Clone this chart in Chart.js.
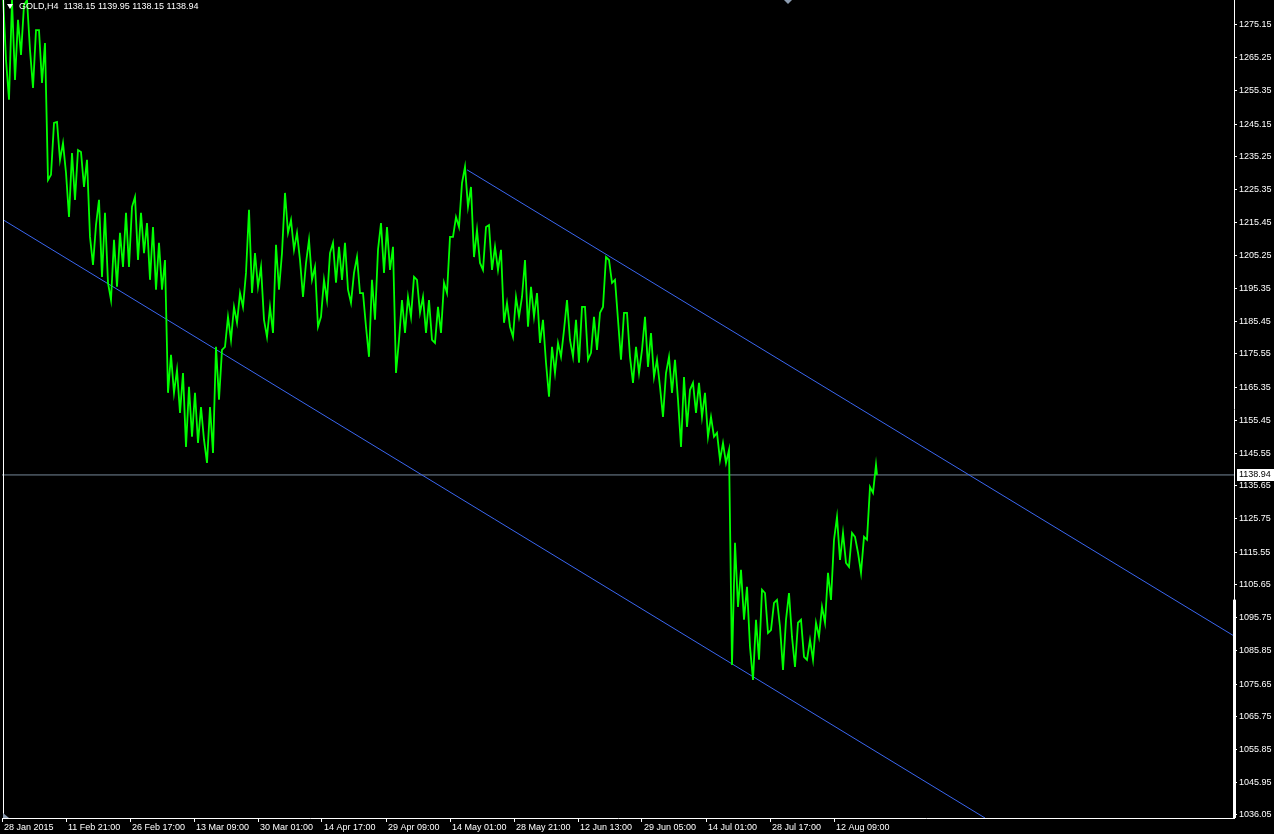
<!DOCTYPE html>
<html>
<head>
<meta charset="utf-8">
<script src="https://cdn.jsdelivr.net/npm/chart.js@4.4.1/dist/chart.umd.min.js"></script>
<style>
  html, body { margin: 0; padding: 0; background: #000; }
  canvas { display: block; background: #000; }
</style>
</head>
<body>
<canvas id="myChart" width="1274" height="834"></canvas>
<script>
// GOLD H4, one entry per trading day (6 H4 bars)
const dayHigh = [1284.2,1282.7,1276.7,1281.2,1282.7,1273.6,1273.6,1269.7,1245.5,1245.8,
    1239.4,1236.4,1237.3,1236.7,1234.3,1214.6,1222.2,1218.3,1210.1,1212.2,
    1218.3,1220.1,1223.1,1218.3,1215.2,1214.0,1209.2,1204.0,1175.3,1170.7,
    1169.8,1165.6,1163.8,1159.5,1159.5,1177.7,1176.8,1186.8,1189.8,1194.0,
    1200.1,1219.2,1206.1,1201.9,1189.8,1208.6,1206.1,1224.3,1216.1,1212.2,
    1203.1,1210.1,1201.9,1198.0,1206.1,1209.2,1208.0,1209.2,1200.1,1204.9,
    1194.0,1198.0,1207.1,1215.2,1214.0,1208.0,1191.9,1192.8,1198.9,1198.0,
    1192.8,1191.9,1189.8,1197.1,1211.0,1217.0,1227.3,1232.2,1226.1,1213.1,
    1214.0,1214.6,1208.0,1207.1,1191.0,1192.8,1192.8,1204.0,1195.9,1194.0,
    1185.9,1177.7,1178.9,1182.8,1191.9,1185.9,1189.8,1189.8,1186.8,1188.0,
    1204.9,1204.0,1198.0,1188.0,1188.0,1177.7,1176.8,1186.8,1181.9,1173.8,
    1169.8,1174.7,1173.8,1168.6,1164.7,1166.8,1166.8,1163.8,1156.5,1151.7,
    1148.6,1146.5,1118.4,1110.2,1105.1,1095.1,1104.2,1103.2,1100.2,1101.1,
    1095.1,1103.2,1094.2,1095.1,1089.0,1094.2,1099.0,1109.3,1119.3,1126.2,
    1121.4,1121.4,1120.2,1120.2,1135.3,1142.0]
const dayLow = [1264.6,1252.5,1258.5,1266.1,1267.6,1256.1,1257.6,1228.2,1229.8,1234.3,
    1230.4,1217.0,1222.2,1226.1,1211.0,1202.5,1198.9,1197.1,1191.9,1195.9,
    1201.9,1201.9,1204.0,1206.1,1198.0,1195.0,1195.0,1163.8,1163.8,1157.7,
    1147.4,1150.5,1148.6,1149.6,1142.6,1145.6,1161.7,1177.7,1179.8,1185.0,
    1189.8,1194.0,1195.9,1185.9,1180.7,1181.9,1195.0,1212.2,1207.1,1204.0,
    1192.8,1198.0,1183.8,1186.8,1191.9,1197.1,1198.0,1195.0,1191.0,1194.0,
    1183.8,1174.7,1185.9,1200.1,1201.0,1169.8,1179.8,1181.9,1186.8,1188.0,
    1181.9,1179.8,1178.9,1181.9,1194.0,1211.0,1214.0,1220.1,1204.9,1203.1,
    1201.0,1201.0,1201.0,1185.0,1183.8,1180.7,1186.8,1183.8,1186.8,1178.9,
    1172.9,1162.6,1169.8,1174.7,1179.8,1174.7,1172.9,1173.8,1175.9,1176.8,
    1189.8,1197.1,1185.9,1173.8,1174.7,1166.8,1169.8,1171.6,1168.6,1165.6,
    1156.5,1163.8,1161.7,1147.4,1153.5,1157.7,1156.5,1150.5,1150.5,1143.5,
    1142.6,1081.4,1099.0,1095.1,1086.9,1076.9,1083.0,1091.1,1092.0,1093.0,
    1079.9,1089.9,1080.8,1083.9,1083.0,1083.0,1089.9,1094.2,1101.1,1113.2,
    1112.3,1111.1,1115.4,1109.3,1119.3,1133.5]

const lastClose = 1138.94
const titleText = 'GOLD,H4  1138.15 1139.95 1138.15 1138.94'

// channel lines: [bar index, price]
const lowerChannel = [[2, 1216.0], [983, 1035.1]]
const upperChannel = [[465, 1231.3], [1232, 1090.2]]

const xTickBars = [0, 64, 128, 192, 256, 320, 384, 448, 512, 576, 640, 704, 768, 832]
const xTickLabels = ['28 Jan 2015', '11 Feb 21:00', '26 Feb 17:00', '13 Mar 09:00', '30 Mar 01:00',
    '14 Apr 17:00', '29 Apr 09:00', '14 May 01:00', '28 May 21:00', '12 Jun 13:00',
    '29 Jun 05:00', '14 Jul 01:00', '28 Jul 17:00', '12 Aug 09:00']
const yTicks = [1275.15, 1265.25, 1255.35, 1245.15, 1235.25, 1225.35, 1215.45, 1205.25, 1195.35,
    1185.45, 1175.55, 1165.35, 1155.45, 1145.55, 1135.65, 1125.75, 1115.55, 1105.65, 1095.75,
    1085.85, 1075.65, 1065.75, 1055.85, 1045.95, 1036.05]

const barsPerDay = 6
const font = { family: '"Liberation Sans", Arial, sans-serif', size: 9 }
const fontStr = '9px "Liberation Sans", Arial, sans-serif'

// zigzag through each day's range, direction following the next day
let pricePoints = []
dayHigh.forEach((h, d) => {
    const l = dayLow[d]
    const mid = (h + l) / 2
    const next = d + 1 < dayHigh.length ? (dayHigh[d + 1] + dayLow[d + 1]) / 2 : lastClose
    const down = next < mid
    pricePoints.push({ x: d * barsPerDay + 1, y: down ? h : l })
    pricePoints.push({ x: d * barsPerDay + 4, y: down ? l : h })
})
pricePoints.push({ x: dayHigh.length * barsPerDay - 1, y: lastClose })

const toPts = arr => arr.map(p => ({ x: p[0], y: p[1] }))

const decor = {
    id: 'decor',
    afterDraw(chart) {
        const c = chart.ctx
        const a = chart.chartArea
        const ys = chart.scales.y
        c.save()
        // left border
        c.strokeStyle = '#fff'
        c.lineWidth = 1
        c.beginPath()
        c.moveTo(a.left + 1.5, a.top)
        c.lineTo(a.left + 1.5, a.bottom)
        c.stroke()
        // scroll marker on the price scale
        c.fillStyle = '#fff'
        const sy = ys.getPixelForValue(1101.2)
        c.fillRect(a.right - 1, sy, 3, a.bottom - sy)
        // title
        c.beginPath()
        c.moveTo(a.left + 5, a.top + 4)
        c.lineTo(a.left + 11, a.top + 4)
        c.lineTo(a.left + 8, a.top + 9)
        c.closePath()
        c.fill()
        c.font = fontStr
        c.textBaseline = 'middle'
        c.textAlign = 'left'
        c.fillText(titleText, a.left + 17, a.top + 7)
        // shift marker at top
        c.fillStyle = '#8c9cb0'
        const mx = a.left + 786
        c.beginPath()
        c.moveTo(mx - 4, a.top)
        c.lineTo(mx + 4, a.top)
        c.lineTo(mx, a.top + 4)
        c.closePath()
        c.fill()
        // bottom-left marker
        c.beginPath()
        c.moveTo(a.left + 1, a.bottom - 5)
        c.lineTo(a.left + 7, a.bottom)
        c.lineTo(a.left + 1, a.bottom)
        c.closePath()
        c.fill()
        // bid price label
        const by = Math.round(ys.getPixelForValue(lastClose))
        c.fillStyle = '#fff'
        c.fillRect(a.right + 3, by - 6, chart.width - a.right - 3, 12)
        c.fillStyle = '#000'
        c.fillText(lastClose.toFixed(2), a.right + 5, by)
        c.restore()
    }
}

const ctx = document.getElementById('myChart')

new Chart(ctx, {
    type: 'line',
    data: {
        datasets: [{
            data: pricePoints,
            borderColor: '#00ff00',
            borderWidth: 1.8,
            pointRadius: 0,
            tension: 0
        }, {
            data: toPts(lowerChannel),
            borderColor: '#3a66f0',
            borderWidth: 1,
            pointRadius: 0
        }, {
            data: toPts(upperChannel),
            borderColor: '#3a66f0',
            borderWidth: 1,
            pointRadius: 0
        }, {
            data: [{ x: 0, y: lastClose }, { x: 1232, y: lastClose }],
            borderColor: '#778899',
            borderWidth: 1,
            pointRadius: 0
        }]
    },
    options: {
        responsive: false,
        animation: false,
        layout: { padding: { left: 2, top: 0, right: 0, bottom: 0 } },
        plugins: {
            legend: { display: false },
            tooltip: { enabled: false }
        },
        scales: {
            x: {
                type: 'linear',
                min: 0,
                max: 1232,
                afterBuildTicks: s => { s.ticks = xTickBars.map(v => ({ value: v })) },
                afterFit: s => { s.height = 16; s.paddingLeft = 0; s.paddingRight = 0 },
                ticks: {
                    callback: (v, i) => xTickLabels[i],
                    color: '#fff',
                    font: font,
                    align: 'start',
                    labelOffset: 2,
                    maxRotation: 0,
                    autoSkip: false,
                    padding: 0
                },
                grid: { drawOnChartArea: false, color: '#fff', tickLength: 4 },
                border: { color: '#fff' }
            },
            y: {
                position: 'right',
                min: 1035.1,
                max: 1282.7,
                afterBuildTicks: s => { s.ticks = yTicks.map(v => ({ value: v })) },
                afterFit: s => { s.width = 40; s.paddingTop = 0; s.paddingBottom = 0 },
                ticks: {
                    callback: v => v.toFixed(2),
                    color: '#fff',
                    font: font,
                    autoSkip: false,
                    padding: 2
                },
                grid: { drawOnChartArea: false, color: '#fff', tickLength: 3 },
                border: { color: '#fff' }
            }
        }
    },
    plugins: [decor]
});
</script>
</body>
</html>
